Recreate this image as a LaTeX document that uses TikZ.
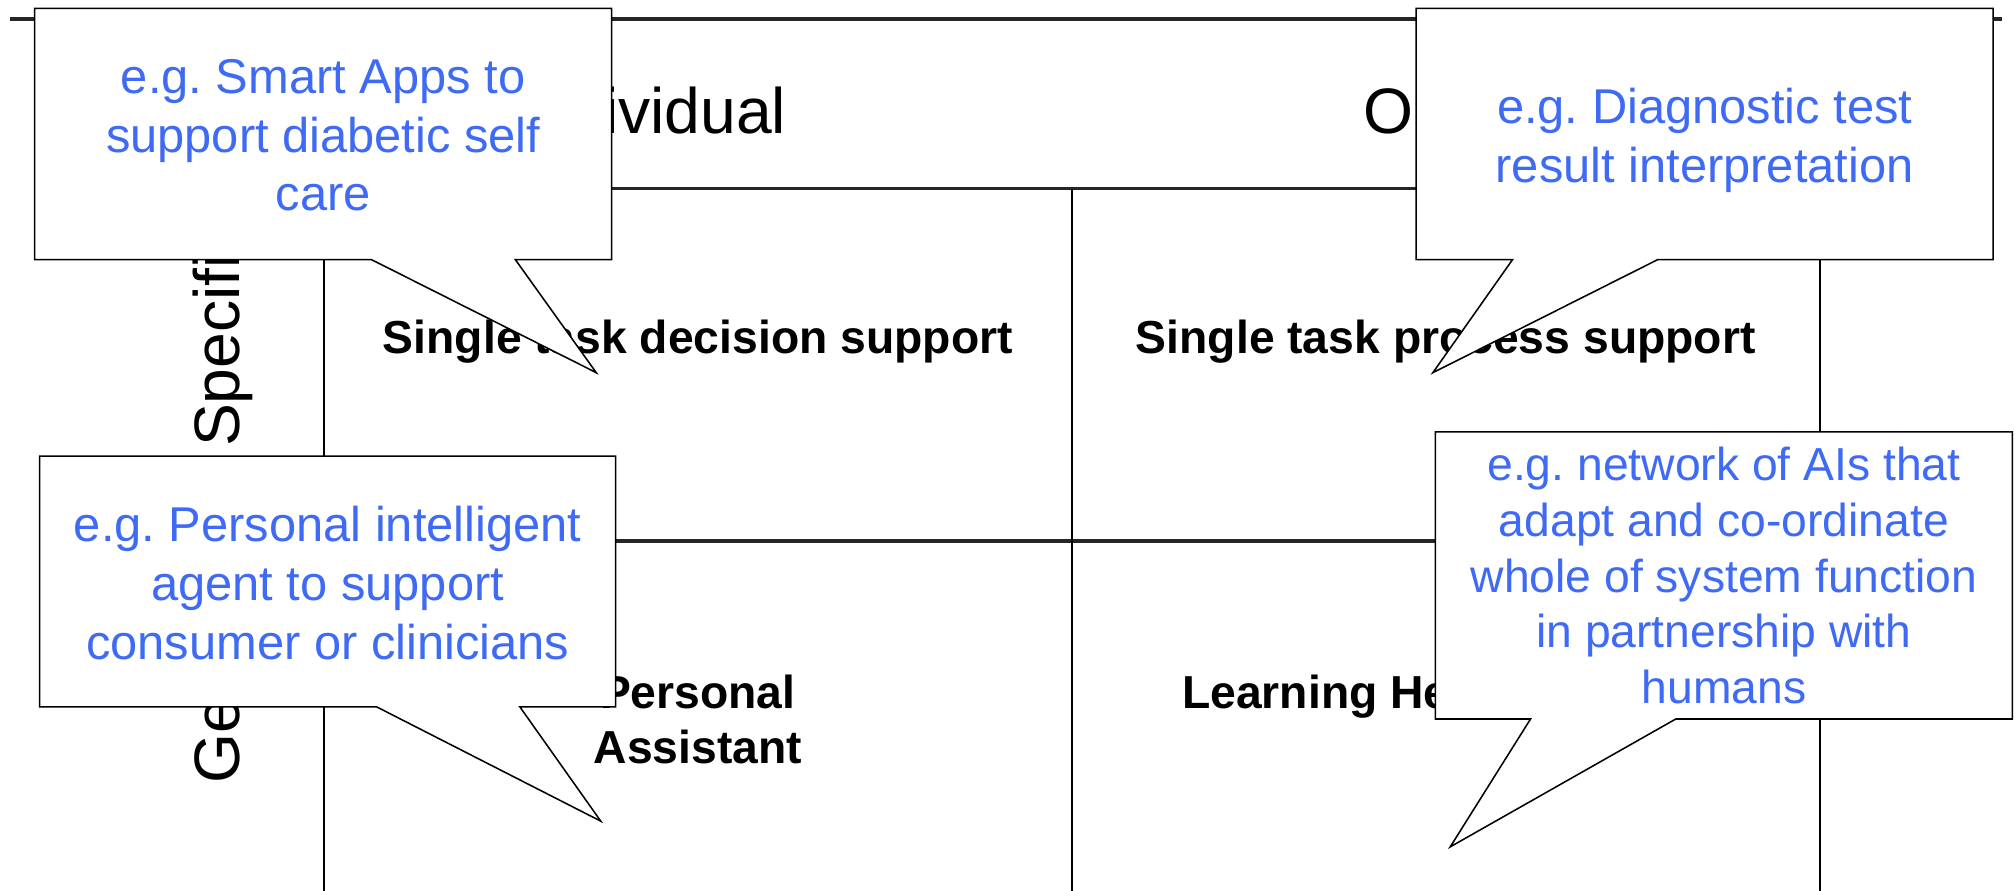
\documentclass[tikz,border=0pt]{standalone}
\usepackage{fontspec}
\setmainfont{Liberation Sans}
\frenchspacing
\definecolor{cblue}{RGB}{62,106,245}
\begin{document}
\begin{tikzpicture}[x=1pt,y=-1pt,
  hline/.style={line width=2.4pt,color=black!85},
  vline/.style={line width=1.4pt,color=black},
  callout/.style={draw=black,line width=1.2pt,fill=white,line join=miter},
  ctext/.style={text=cblue,align=center,inner sep=0pt,anchor=north,font=\fontsize{38}{45.6}\selectfont},
  ctextsmall/.style={ctext,font=\fontsize{36}{43.5}\selectfont},
  quadlabel/.style={font=\fontsize{36}{43}\selectfont\bfseries,inner sep=0pt,anchor=base},
  headtext/.style={font=\fontsize{50}{60}\selectfont,inner sep=0pt}]
\useasboundingbox (0,0) rectangle (1568,693);

% grid
\coordinate (tl) at (8,14.8);
\coordinate (tr) at (1558,14.8);
\coordinate (v1t) at (252,14.8);
\coordinate (v1b) at (252,693);
\coordinate (v2t) at (834,147);
\coordinate (v2b) at (834,693);
\coordinate (v3t) at (1416,14.8);
\coordinate (v3b) at (1416,693);
\coordinate (h1l) at (252,147);
\coordinate (h1r) at (1416,147);
\coordinate (h2l) at (252,421);
\coordinate (h2r) at (1416,421);
\draw[hline] (tl) -- (tr);
\draw[hline] (h1l) -- (h1r);
\draw[hline] (h2l) -- (h2r);
\draw[vline] (v1t) -- (v1b);
\draw[vline] (v2t) -- (v2b);
\draw[vline] (v3t) -- (v3b);

% headers
\node[headtext,anchor=base east] (indiv) at (612,103.7) {Individual};
\node[headtext,anchor=base west] (org) at (1061,103.7) {Organisation};
\node[headtext,rotate=90,anchor=base west] (spec) at (186,348) {Specific};
\node[headtext,rotate=90,anchor=base west] (gen) at (186,610) {General};

% quadrant labels
\node[quadlabel] (q1) at (543,275) {Single task decision support};
\node[quadlabel] (q2) at (1125,275) {Single task process support};
\node[quadlabel,align=center,anchor=north] (q3) at (543,521) {\rule{0pt}{30pt}Personal\\Assistant};
\node[quadlabel] (q4) at (1125,551) {Learning Health System};

% callouts
\draw[callout] (27,6.5) -- (476,6.5) -- (476,202) -- (401,202) -- (464,290) -- (289,202) -- (27,202) -- cycle;
\node[ctext] (c1) at (251.5,42.6) {\rule{0pt}{30pt}e.g. Smart Apps to\\support diabetic self\\care};

\draw[callout] (1102,6.5) -- (1551,6.5) -- (1551,202) -- (1290,202) -- (1115,290) -- (1177,202) -- (1102,202) -- cycle;
\node[ctext] (c2) at (1326.5,66) {\rule{0pt}{30pt}e.g. Diagnostic test\\result interpretation};

\draw[callout] (30.8,355) -- (479,355) -- (479,550) -- (404.5,550) -- (467.5,639) -- (293,550) -- (30.8,550) -- cycle;
\node[ctext] (c3) at (255,391.5) {\rule{0pt}{30pt}e.g. Personal intelligent\\agent to support\\consumer or clinicians};

\draw[callout] (1117,336) -- (1566,336) -- (1566,559.5) -- (1304,559.5) -- (1128.5,659) -- (1191,559.5) -- (1117,559.5) -- cycle;
\node[ctextsmall] (c4) at (1341.5,343.5) {\rule{0pt}{30pt}e.g. network of AIs that\\adapt and co-ordinate\\whole of system function\\in partnership with\\humans};
\end{tikzpicture}
\end{document}
